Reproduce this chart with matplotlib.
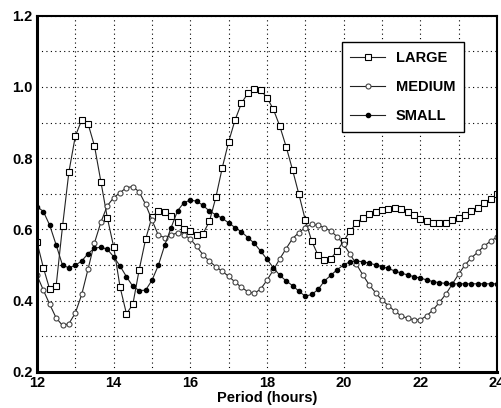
import numpy as np
import matplotlib
matplotlib.use("Agg")
from matplotlib import pyplot as plt
from matplotlib.ticker import MultipleLocator

# sample grid: one marker every 10 minutes, 12 h to 24 h
period = np.linspace(12, 24, 73)

large = [
    0.564, 0.492, 0.431, 0.442, 0.609, 0.762, 0.862, 0.907, 0.896, 0.834,
    0.734, 0.633, 0.551, 0.438, 0.363, 0.389, 0.487, 0.572, 0.635, 0.652,
    0.650, 0.638, 0.620, 0.602, 0.594, 0.585, 0.588, 0.623, 0.690, 0.773,
    0.846, 0.907, 0.954, 0.982, 0.995, 0.991, 0.970, 0.937, 0.890, 0.832,
    0.767, 0.698, 0.626, 0.567, 0.527, 0.513, 0.518, 0.540, 0.567, 0.595,
    0.617, 0.633, 0.642, 0.650, 0.654, 0.658, 0.659, 0.656, 0.650, 0.640,
    0.630, 0.622, 0.617, 0.617, 0.619, 0.625, 0.632, 0.641, 0.651, 0.661,
    0.673, 0.686, 0.698,
]
medium = [
    0.471, 0.429, 0.389, 0.351, 0.330, 0.335, 0.365, 0.417, 0.489, 0.562,
    0.620, 0.666, 0.689, 0.703, 0.717, 0.720, 0.705, 0.670, 0.626, 0.583,
    0.577, 0.583, 0.591, 0.585, 0.573, 0.552, 0.528, 0.510, 0.495, 0.482,
    0.468, 0.452, 0.437, 0.425, 0.420, 0.432, 0.457, 0.486, 0.517, 0.546,
    0.574, 0.591, 0.605, 0.614, 0.611, 0.605, 0.595, 0.579, 0.558, 0.530,
    0.502, 0.472, 0.444, 0.422, 0.401, 0.386, 0.370, 0.357, 0.350, 0.346,
    0.346, 0.357, 0.374, 0.395, 0.418, 0.446, 0.474, 0.500, 0.520, 0.536,
    0.553, 0.567, 0.578,
]
small = [
    0.664, 0.650, 0.611, 0.556, 0.499, 0.492, 0.499, 0.511, 0.532, 0.547,
    0.550, 0.544, 0.523, 0.497, 0.467, 0.440, 0.428, 0.429, 0.457, 0.499,
    0.556, 0.605, 0.652, 0.675, 0.682, 0.679, 0.667, 0.651, 0.641, 0.631,
    0.618, 0.605, 0.593, 0.577, 0.561, 0.539, 0.516, 0.492, 0.471, 0.455,
    0.442, 0.426, 0.412, 0.417, 0.431, 0.455, 0.471, 0.487, 0.500, 0.509,
    0.511, 0.509, 0.505, 0.500, 0.495, 0.490, 0.483, 0.477, 0.472, 0.467,
    0.463, 0.458, 0.453, 0.450, 0.448, 0.447, 0.447, 0.447, 0.447, 0.447,
    0.447, 0.447, 0.447,
]

plt.rcParams["font.family"] = ["Liberation Sans", "DejaVu Sans"]
plt.rcParams["font.weight"] = "bold"

fig = plt.figure(figsize=(5.02, 4.08), dpi=100)
ax = fig.add_axes([0.0737, 0.0889, 0.9163, 0.8726])

line_kw = {"color": "#222222", "linewidth": 0.8}
ax.plot(period, large, marker="s", markersize=4.2, markerfacecolor="white",
        markeredgecolor="black", markeredgewidth=0.8, label="LARGE", **line_kw)
ax.plot(period, medium, marker="o", markersize=3.6, markerfacecolor="white",
        markeredgecolor="#444444", markeredgewidth=0.8, label="MEDIUM", **line_kw)
ax.plot(period, small, marker="o", markersize=3, markerfacecolor="black",
        markeredgecolor="black", label="SMALL", **line_kw)

ax.set_xlim(12, 24)
ax.set_ylim(0.2, 1.2)
ax.xaxis.set_major_locator(MultipleLocator(2))
ax.xaxis.set_minor_locator(MultipleLocator(1))
ax.yaxis.set_major_locator(MultipleLocator(0.2))
ax.yaxis.set_minor_locator(MultipleLocator(0.1))
ax.yaxis.set_major_formatter(lambda v, pos: f"{v:.1f}")
ax.grid(which="both", color="black", linestyle=(0, (1, 3)), linewidth=0.8)
ax.tick_params(which="both", length=0, labelsize=10.5, pad=3)

for side in ["left", "bottom"]:
    ax.spines[side].set_linewidth(2.2)
for side in ["top", "right"]:
    ax.spines[side].set_linewidth(1.5)

ax.set_xlabel("Period (hours)", fontsize=10.5, fontweight="bold", labelpad=1)

leg = ax.legend(loc="upper right", bbox_to_anchor=(0.928, 0.926), borderaxespad=0,
                fancybox=False, framealpha=1, edgecolor="black", fontsize=10.5,
                labelspacing=1.05, handlelength=2.4, handletextpad=0.7, borderpad=0.6)
leg.get_frame().set_linewidth(1)

fig.savefig("out.png", dpi=100)
